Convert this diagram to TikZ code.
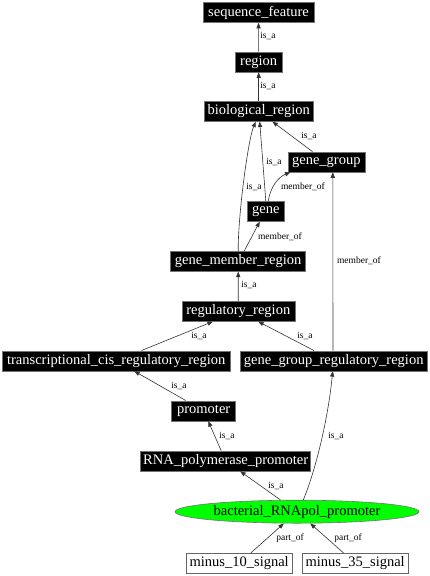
\documentclass[tikz,border=0pt]{standalone}
\usepackage{fontspec}
\setmainfont{Liberation Serif}
\usetikzlibrary{arrows.meta,shapes.geometric}
\begin{document}
\begin{tikzpicture}[x=1pt,y=-1pt,
  blk/.style={rectangle, fill=black, draw=black!55, line width=0.6pt, text=white,
    font=\fontsize{14.5}{14.5}\selectfont, minimum height=20pt, inner sep=0pt},
  wbox/.style={rectangle, fill=white, draw=black!60, line width=0.6pt, text=black,
    font=\fontsize{14.5}{14.5}\selectfont, minimum height=20pt, inner sep=0pt},
  ell/.style={ellipse, fill=green, draw=black!55, line width=0.6pt, text=black,
    font=\fontsize{14.5}{14.5}\selectfont, minimum width=244pt, minimum height=23pt, inner sep=0pt},
  lbl/.style={font=\fontsize{9.5}{9.5}\selectfont, inner sep=0pt, text=black},
  conn/.style={draw=black!80, line width=0.6pt, -{Triangle[length=5.5pt,width=4.2pt]}}
]
\useasboundingbox (0,0) rectangle (429,576);

\node[blk, minimum width=111pt] (sf) at (258.5,12.5) {sequence\_feature};
\node[blk, minimum width=47pt] (reg) at (258.7,62) {region};
\node[blk, minimum width=109pt] (br) at (258.7,111.3) {biological\_region};
\node[blk, minimum width=77pt] (gg) at (326.3,162) {gene\_group};
\node[blk, minimum width=37pt] (gene) at (265.8,211.3) {gene};
\node[blk, minimum width=135pt] (gmr) at (238.2,261.3) {gene\_member\_region};
\node[blk, minimum width=113pt] (rr) at (238.3,311.2) {regulatory\_region};
\node[blk, minimum width=228pt] (tcr) at (116.2,360.8) {transcriptional\_cis\_regulatory\_region};
\node[blk, minimum width=187pt] (ggr) at (333.7,360.8) {gene\_group\_regulatory\_region};
\node[blk, minimum width=64pt] (prom) at (203.7,410.8) {promoter};
\node[blk, minimum width=170pt] (rnap) at (225.7,461) {RNA\_polymerase\_promoter};
\node[ell] (bac) at (297,511.7) {bacterial\_RNApol\_promoter};
\node[wbox, minimum width=106pt] (m10) at (239.2,563.3) {minus\_10\_signal};
\node[wbox, minimum width=106pt] (m35) at (355.2,563.3) {minus\_35\_signal};

\draw[conn] (reg) -- (sf);
\node[lbl] (l1) at (268,36) {is\_a};
\draw[conn] (br) -- (reg);
\node[lbl] (l2) at (268,86) {is\_a};
\draw[conn] (gg) -- (br);
\node[lbl] (l3) at (309,136) {is\_a};
\draw[conn] (gene.north) -- ([xshift=1pt]br.south);
\node[lbl] (l4) at (274,162) {is\_a};
\draw[conn] (gmr.north) .. controls (238,215) and (248,140) .. ([xshift=-3pt]br.south);
\node[lbl] (l5) at (254,187) {is\_a};
\draw[conn] ([xshift=2.5pt]gene.north) .. controls (270,188) and (278,177) .. ([xshift=3pt]gg.south west);
\node[lbl] (l6) at (303,187) {member\_of};
\draw[conn] ([xshift=6pt]gmr.north) -- ([xshift=-6pt]gene.south);
\node[lbl] (l7) at (280,237) {member\_of};
\draw[conn] (rr) -- (gmr);
\node[lbl] (l8) at (249,285) {is\_a};
\draw[conn] ([xshift=-0.7pt]ggr.north) -- ([xshift=6.5pt]gg.south);
\node[lbl] (l9) at (359,261) {member\_of};
\draw[conn] (tcr) -- (rr);
\node[lbl] (l10) at (199,336) {is\_a};
\draw[conn] (ggr) -- (rr);
\node[lbl] (l11) at (305,336) {is\_a};
\draw[conn] (prom) -- (tcr);
\node[lbl] (l12) at (179,386) {is\_a};
\draw[conn] (rnap) -- (prom);
\node[lbl] (l13) at (227,436) {is\_a};
\draw[conn] (bac) -- (rnap);
\node[lbl] (l14) at (276,486) {is\_a};
\draw[conn] ([xshift=6.3pt]bac.north) .. controls (315,472) and (328,420) .. ([xshift=-1pt]ggr.south);
\node[lbl] (l15) at (336,436) {is\_a};
\draw[conn] (m10) -- (bac);
\node[lbl] (l16) at (290,538) {part\_of};
\draw[conn] (m35) -- (bac);
\node[lbl] (l17) at (348,538) {part\_of};
\end{tikzpicture}
\end{document}
